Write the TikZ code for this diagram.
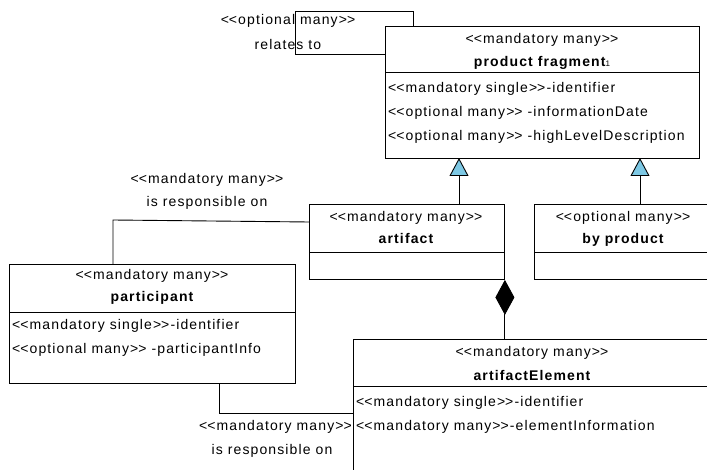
\documentclass[tikz,border=0pt]{standalone}
\usepackage{fontspec}
\setmainfont{Liberation Sans}[LetterSpace=8]
\usetikzlibrary{arrows.meta}
\definecolor{umlblue}{RGB}{125,200,228}
\newcommand{\oo}{<\kern0pt<}
\newcommand{\cc}{>\kern0pt>}
\begin{document}
\begin{tikzpicture}[x=1pt,y=-1pt,
  cls/.style={draw,line width=0.9pt,rectangle,inner sep=0pt,anchor=north west},
  txt/.style={inner sep=0pt,font=\fontsize{14}{16}\selectfont,text height=9.5pt,text depth=2.5pt},
  attr/.style={txt,anchor=west},
  nm/.style={txt,font=\fontsize{14}{16}\selectfont\bfseries},
  conn/.style={line width=0.9pt},
  gen/.style={conn,-{Triangle[length=18pt,width=19pt,fill=umlblue,line width=0.9pt]}},
  comp/.style={conn,-{Diamond[length=35pt,width=19pt,fill=black]}}]
\useasboundingbox (0,0) rectangle (707,470);
\fill[white] (0,0) rectangle (707,470);
% classes
\node[cls,minimum width=314pt,minimum height=132pt] (pf) at (385,26) {};
\draw[line width=0.9pt] (385,72) -- (699,72);
\node[txt] (pfs) at (542,40) {\oo mandatory many\cc};
\node[nm] (pfn) at (542,63) {product fragment{\normalfont\footnotesize 1}};
\node[attr] (pfa1) at (388,89) {\oo mandatory single\cc-identifier};
\node[attr] (pfa2) at (388,113) {\oo optional many\cc{} -informationDate};
\node[attr] (pfa3) at (388,137) {\oo optional many\cc{} -highLevelDescription};

\node[cls,minimum width=195pt,minimum height=75pt] (art) at (309,204) {};
\draw[line width=0.9pt] (309,252) -- (504,252);
\node[txt] (arts) at (406,218) {\oo mandatory many\cc};
\node[nm] (artn) at (406,240) {artifact};

\node[cls,minimum width=178pt,minimum height=75pt] (byp) at (534,204) {};
\draw[line width=0.9pt] (534,252) -- (712,252);
\node[txt] (byps) at (623,218) {\oo optional many\cc};
\node[nm] (bypn) at (623,240) {by product};

\node[cls,minimum width=286pt,minimum height=119pt] (par) at (9,264) {};
\draw[line width=0.9pt] (9,312) -- (295,312);
\node[txt] (pars) at (152,276) {\oo mandatory many\cc};
\node[nm] (parn) at (152,298) {participant};
\node[attr] (para1) at (12,326) {\oo mandatory single\cc-identifier};
\node[attr] (para2) at (12,350) {\oo optional many\cc{} -participantInfo};

\node[cls,minimum width=359pt,minimum height=141pt] (ae) at (353,339) {};
\draw[line width=0.9pt] (353,386) -- (712,386);
\node[txt] (aes) at (532,353) {\oo mandatory many\cc};
\node[nm] (aen) at (532,377) {artifactElement};
\node[attr] (aea1) at (356,403) {\oo mandatory single\cc-identifier};
\node[attr] (aea2) at (356,427) {\oo mandatory many\cc-elementInformation};

% self association of product fragment
\coordinate (l1) at (413,11);
\coordinate (l2) at (295,11);
\coordinate (l3) at (295,54);
\draw[conn] (pf.north west -| l1) -- (l1) -- (l2) -- (l3) -- (l3 -| pf.west);
\node[txt] (lr1) at (288,21) {\oo optional many\cc};
\node[txt] (lr2) at (288,46) {relates to};

% participant - artifact
\coordinate (pa1) at (113,220);
\coordinate (pa2) at (309,222);
\draw[conn] (par.north west -| pa1) -- (pa1) -- (pa2);
\node[txt] (pl1) at (207,180) {\oo mandatory many\cc};
\node[txt] (pl2) at (207,203) {is responsible on};

% participant - artifactElement
\coordinate (pe1) at (219,413);
\draw[conn] (par.south west -| pe1) -- (pe1) -- (pe1 -| ae.west);
\node[txt,anchor=east] (el1) at (352,427) {\oo mandatory many\cc};
\node[txt] (el2) at (272,451) {is responsible on};

% generalizations
\coordinate (g1) at (459,158);
\coordinate (g2) at (640,158);
\draw[gen] (art.north west -| g1) -- (g1);
\draw[gen] (byp.north west -| g2) -- (g2);

% composition
\draw[comp] (ae.north west -| art.south east) -- (art.south east);
\end{tikzpicture}
\end{document}
